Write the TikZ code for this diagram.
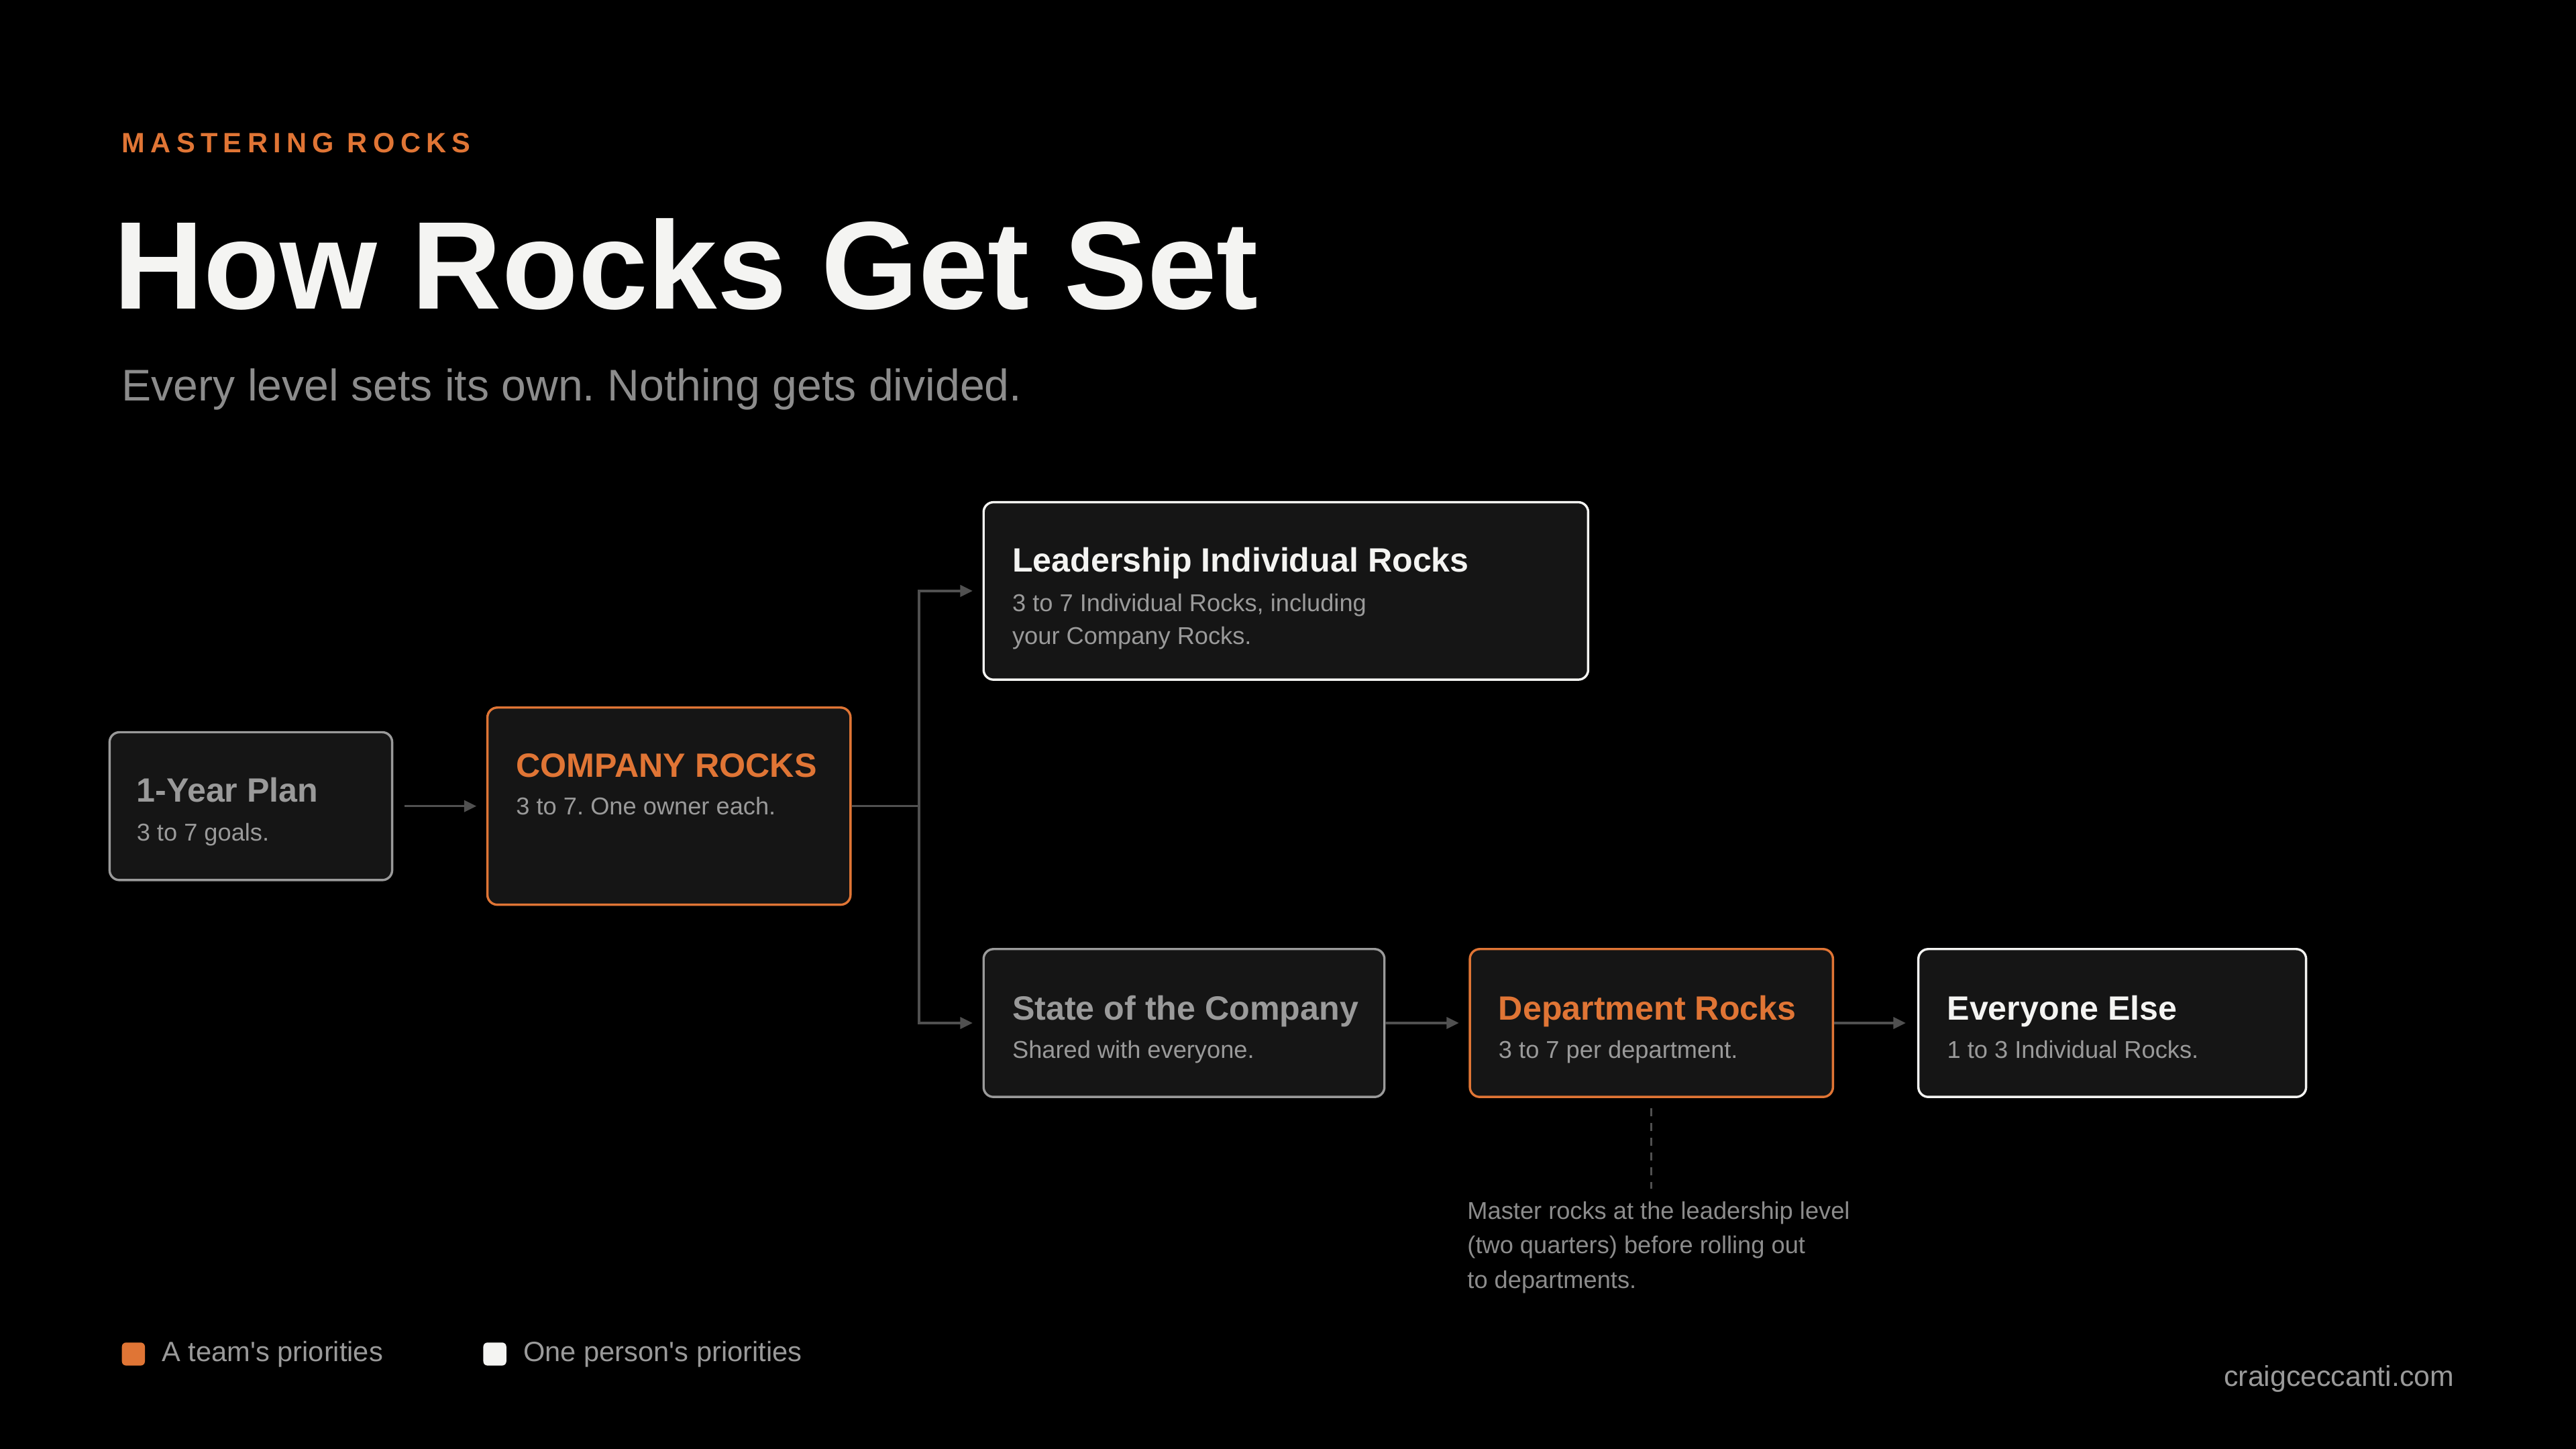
\documentclass[tikz,border=0pt]{standalone}
\usepackage{fontspec}
\setmainfont{Liberation Sans}
\newfontfamily\kickerfont[LetterSpace=20]{Liberation Sans}
\usetikzlibrary{arrows.meta,positioning,calc}
\definecolor{accent}{HTML}{E07535}
\definecolor{boxfill}{HTML}{151515}
\definecolor{paper}{HTML}{F4F4F2}
\definecolor{mutegray}{HTML}{9A9A9A}
\definecolor{subgray}{HTML}{8C8C8C}
\definecolor{wiregray}{HTML}{505050}
\tikzset{
	card/.style={draw=#1, line width=1.4pt, rounded corners=6pt, fill=boxfill, anchor=north west, inner sep=0pt},
	head/.style={anchor=base west, inner sep=0pt, font=\fontsize{20.5}{24}\selectfont\bfseries},
	blurb/.style={anchor=base west, inner sep=0pt, text=mutegray, font=\fontsize{14.8}{20}\selectfont},
	wire/.style={draw=wiregray, line width=1.4pt, -{Triangle[length=7.5pt,width=7pt]}},
	keybox/.style={anchor=north west, rounded corners=2.5pt, minimum size=14pt, inner sep=0pt},
	keytext/.style={inner sep=0pt, text=mutegray, font=\fontsize{17}{20}\selectfont}
}
\frenchspacing
\begin{document}
\begin{tikzpicture}[x=1pt, y=-1pt]
	\fill[black] (0,0) rectangle (1568,882);
	\useasboundingbox (0,0) rectangle (1568,882);
	% heading
	\node[anchor=base west, inner sep=0pt, text=accent, font=\kickerfont\fontsize{17}{20}\selectfont\bfseries] (kicker) at (74,93) {MASTERING ROCKS};
	\node[anchor=base west, inner sep=0pt, text=paper, font=\fontsize{76}{80}\selectfont\bfseries] (title) at (69,188) {How Rocks Get Set};
	\node[anchor=base west, inner sep=0pt, text=subgray, font=\fontsize{27}{30}\selectfont] (subtitle) at (74,244) {Every level sets its own. Nothing gets divided.};
	% boxes
	\node[card=mutegray, minimum width=172pt, minimum height=90pt] (plan) at (66,445) {};
	\node[card=accent, minimum width=221pt, minimum height=120pt] (company) at (296,430) {};
	\node[card=paper, minimum width=368pt, minimum height=108pt] (leader) at (598,305) {};
	\node[card=mutegray, minimum width=244pt, minimum height=90pt] (state) at (598,577) {};
	\node[card=accent, minimum width=221pt, minimum height=90pt] (dept) at (894,577) {};
	\node[card=paper, minimum width=236pt, minimum height=90pt] (everyone) at (1167,577) {};
	% box texts
	\node[head, text=mutegray] (planhead) at ([shift={(17,43)}]plan.north west) {1-Year Plan};
	\node[blurb] (plansub) at ([shift={(17,67)}]plan.north west) {3 to 7 goals.};
	\node[head, text=accent] (companyhead) at ([shift={(18,43)}]company.north west) {COMPANY ROCKS};
	\node[blurb] (companysub) at ([shift={(18,66)}]company.north west) {3 to 7. One owner each.};
	\node[head, text=paper] (leaderhead) at ([shift={(18,43)}]leader.north west) {Leadership Individual Rocks};
	\node[blurb, align=left] (leadersub) at ([shift={(18,87)}]leader.north west) {3 to 7 Individual Rocks, including\\your Company Rocks.};
	\node[head, text=mutegray] (statehead) at ([shift={(18,44)}]state.north west) {State of the Company};
	\node[blurb] (statesub) at ([shift={(18,67)}]state.north west) {Shared with everyone.};
	\node[head, text=accent] (depthead) at ([shift={(18,44)}]dept.north west) {Department Rocks};
	\node[blurb] (deptsub) at ([shift={(18,67)}]dept.north west) {3 to 7 per department.};
	\node[head, text=paper] (everyonehead) at ([shift={(18,44)}]everyone.north west) {Everyone Else};
	\node[blurb] (everyonesub) at ([shift={(18,67)}]everyone.north west) {1 to 3 Individual Rocks.};
	% note under department rocks
	\node[blurb, align=left, text=subgray, font=\fontsize{14.8}{21}\selectfont] (note) at (893,784) {Master rocks at the leadership level\\(two quarters) before rolling out\\to departments.};
	% connectors
	\coordinate (fork) at ([xshift=41pt]company.east);
	\draw[wire, shorten <=7pt, shorten >=6pt] (plan) -- (company);
	\draw[wire, shorten >=6pt] (company.east) -- (fork) |- (leader.west);
	\draw[wire, shorten >=6pt] (fork) |- (state.west);
	\draw[wire, shorten >=6pt] (state) -- (dept);
	\draw[wire, shorten >=7pt] (dept) -- (everyone);
	\draw[draw=wiregray, line width=1.2pt, dash pattern=on 5pt off 4pt, shorten <=6pt] (dept.south) -- ([yshift=-55pt]dept.south);
	% legend
	\node[keybox, fill=accent] (teamkey) at (74,817) {};
	\node[keytext, right=10pt of teamkey] (teamlabel) {A team\textquotesingle s priorities};
	\node[keybox, fill=paper] (personkey) at (294,817) {};
	\node[keytext, right=10pt of personkey] (personlabel) {One person\textquotesingle s priorities};
	\node[anchor=base east, inner sep=0pt, text=mutegray, font=\fontsize{17.5}{20}\selectfont] (site) at (1494,844) {craigceccanti.com};
\end{tikzpicture}
\end{document}
